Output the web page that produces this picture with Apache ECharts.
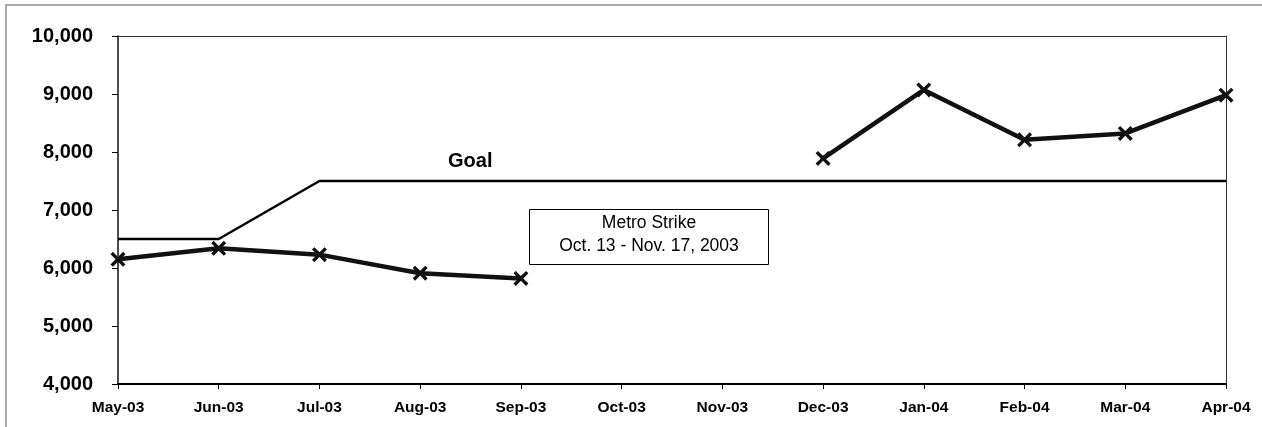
<!DOCTYPE html>
<html>
<head>
<meta charset="utf-8">
<script src="https://cdn.jsdelivr.net/npm/echarts@6/dist/echarts.min.js"></script>
<style>
  html, body { margin: 0; padding: 0; background: #fff; }
  #chart { width: 1262px; height: 427px; }
</style>
</head>
<body>
<div id="chart"></div>
<script>
// Monthly ridership vs. goal, May 2003 – Apr 2004
const months = ['May-03', 'Jun-03', 'Jul-03', 'Aug-03', 'Sep-03', 'Oct-03',
                'Nov-03', 'Dec-03', 'Jan-04', 'Feb-04', 'Mar-04', 'Apr-04'];
// no data during the strike months (Oct, Nov)
const actual = [6150, 6340, 6230, 5910, 5820, null, null, 7890, 9070, 8210, 8320, 8980];
const goal = [6500, 6500, 7500, 7500, 7500, 7500, 7500, 7500, 7500, 7500, 7500, 7500];
const yTicks = { min: 4000, max: 10000, step: 1000 };

const FONT = '"Liberation Sans", Arial, sans-serif';
const crossPath = 'path://M0,1.6 L1.6,0 L5,3.4 L8.4,0 L10,1.6 L6.6,5 L10,8.4 L8.4,10 L5,6.6 L1.6,10 L0,8.4 L3.4,5 Z';

const chart = echarts.init(document.getElementById('chart'), null, { renderer: 'canvas' });

chart.setOption({
  animation: false,
  backgroundColor: '#fff',
  grid: { left: 118, right: 36, top: 36, bottom: 43, show: false },
  xAxis: [{
    type: 'category',
    data: months,
    boundaryGap: false,
    axisLine: { lineStyle: { color: '#000', width: 2 } },
    axisTick: { show: true, length: 5, inside: false, lineStyle: { color: '#000', width: 1 } },
    axisLabel: { color: '#000', fontFamily: FONT, fontWeight: 'bold', fontSize: 15.5, margin: 16 },
    splitLine: { show: false }
  }, {
    type: 'category',
    data: months,
    boundaryGap: false,
    position: 'top',
    axisLine: { lineStyle: { color: '#333', width: 1 } },
    axisTick: { show: false },
    axisLabel: { show: false },
    splitLine: { show: false }
  }],
  yAxis: [{
    type: 'value',
    min: yTicks.min,
    max: yTicks.max,
    interval: yTicks.step,
    axisLine: { show: true, lineStyle: { color: '#111', width: 1.5 } },
    axisTick: { show: true, length: 6, lineStyle: { color: '#000' } },
    axisLabel: {
      color: '#000', fontFamily: FONT, fontWeight: 'bold', fontSize: 20, margin: 25,
      formatter: v => v.toLocaleString('en-US')
    },
    splitLine: { show: false }
  }, {
    type: 'value',
    position: 'right',
    min: yTicks.min,
    max: yTicks.max,
    interval: yTicks.step,
    axisLine: { show: true, lineStyle: { color: '#333', width: 1 } },
    axisTick: { show: false },
    axisLabel: { show: false },
    splitLine: { show: false }
  }],
  series: [{
    name: 'Goal',
    type: 'line',
    data: goal,
    symbol: 'none',
    lineStyle: { color: '#000', width: 2.5 },
    z: 2
  }, {
    name: 'Actual',
    type: 'line',
    data: actual,
    connectNulls: false,
    symbol: crossPath,
    symbolSize: 15,
    showAllSymbol: true,
    itemStyle: { color: '#111' },
    lineStyle: { color: '#111', width: 4.5 },
    z: 3
  }],
  graphic: [
    // outer frame
    {
      type: 'rect', silent: true,
      shape: { x: 6, y: 5, width: 1300, height: 500 },
      style: { fill: 'none', stroke: '#aaa', lineWidth: 2 }
    },
    {
      type: 'text', left: 448, top: 151,
      style: { text: 'Goal', fill: '#000', font: 'bold 20px ' + FONT }
    },
    {
      type: 'group', left: 529, top: 209,
      children: [
        {
          type: 'rect',
          shape: { x: 0, y: 0, width: 239, height: 55 },
          style: { fill: '#fff', stroke: '#000', lineWidth: 1 }
        },
        {
          type: 'text', x: 119.5, y: 14,
          style: { text: 'Metro Strike', fill: '#000', font: '17.5px ' + FONT, align: 'center', verticalAlign: 'middle' }
        },
        {
          type: 'text', x: 119.5, y: 37,
          style: { text: 'Oct. 13 - Nov. 17, 2003', fill: '#000', font: '17.5px ' + FONT, align: 'center', verticalAlign: 'middle' }
        }
      ]
    }
  ]
});
</script>
</body>
</html>
